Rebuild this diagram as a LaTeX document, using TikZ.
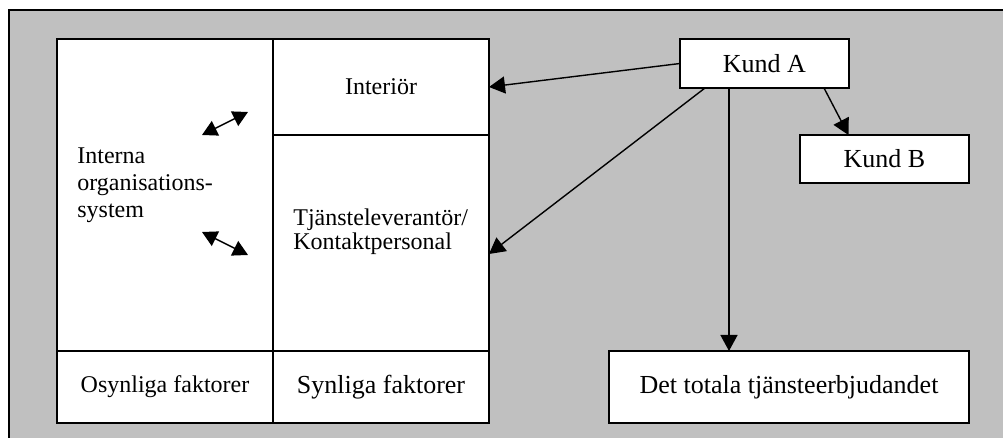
\documentclass[tikz,border=0pt]{standalone}
\usepackage{fontspec}
\setmainfont{Liberation Serif}
\usepackage{xcolor}
\usepackage{tikz}
\usetikzlibrary{arrows.meta, positioning}
\definecolor{panelgray}{RGB}{192,192,192}
\tikzset{
    cell/.style={rectangle, draw=black, fill=white, line width=0.75pt, inner sep=0pt, outer sep=0pt, text centered, font=\fontsize{12}{14}\selectfont},
    kund/.style={cell, font=\fontsize{13}{15}\selectfont},
    note/.style={inner sep=0pt, align=left, anchor=west},
    arrow/.style={line width=0.7pt, -{Triangle[length=8pt,width=8.5pt]}},
    biarrow/.style={line width=0.7pt, {Triangle[length=7.5pt,width=8pt]}-{Triangle[length=7.5pt,width=8pt]}}
}

\begin{document}
\begin{tikzpicture}[x=0.5pt, y=-0.5pt]
    \useasboundingbox (0,0) rectangle (1003,438);
    \clip (0,0) rectangle (1003,438);
    \draw [fill=panelgray, line width=1pt] (9,10) rectangle (1012,450);

    % left block
    \node (intern) [cell, minimum width=108pt, minimum height=156pt] at (165,195) {};
    \node (interior) [cell, minimum width=108pt, minimum height=48pt] at (381,87) {Interiör};
    \node (kontakt) [cell, minimum width=108pt, minimum height=108pt] at (381,243) {};
    \node (osynliga) [cell, minimum width=108pt, minimum height=36pt] at (165,387) {Osynliga faktorer};
    \node (synliga) [kund, minimum width=108pt, minimum height=36pt] at (381,387) {Synliga faktorer};
    \node (internlbl) [note, font=\fontsize{12}{13.5}\selectfont] at ([xshift=10pt, yshift=5pt]intern.west) {Interna\\organisations-\\system};
    \node (kontaktlbl) [note, font=\fontsize{12}{12}\selectfont] at ([xshift=10pt, yshift=5.5pt]kontakt.west) {Tjänsteleverantör/\\Kontaktpersonal};

    % right side
    \node (kundA) [kund, minimum width=84.5pt, minimum height=24.5pt] at (764.5,63.5) {Kund A};
    \node (kundB) [kund, minimum width=84.5pt, minimum height=24pt] at (884.5,159) {Kund B};
    \node (total) [kund, minimum width=180pt, minimum height=36pt] at (789,387) {Det totala tjänsteerbjudandet};

    \coordinate (ia1) at (202,135);
    \coordinate (ia2) at (248,112);
    \coordinate (ka1) at (202,232);
    \coordinate (ka2) at (248,255);

    \draw [biarrow] (ia1) -- (ia2);
    \draw [biarrow] (ka1) -- (ka2);
    \draw [arrow] (kundA.west) -- (interior.east);
    \draw [arrow] ([xshift=12.5pt]kundA.south west) -- ([yshift=-5.5pt]kontakt.east);
    \draw [arrow] ([xshift=-17.75pt]kundA.south) -- ([xshift=-30pt]total.north);
    \draw [arrow] ([xshift=-12.5pt]kundA.south east) -- ([xshift=-18pt]kundB.north);
\end{tikzpicture}
\end{document}
